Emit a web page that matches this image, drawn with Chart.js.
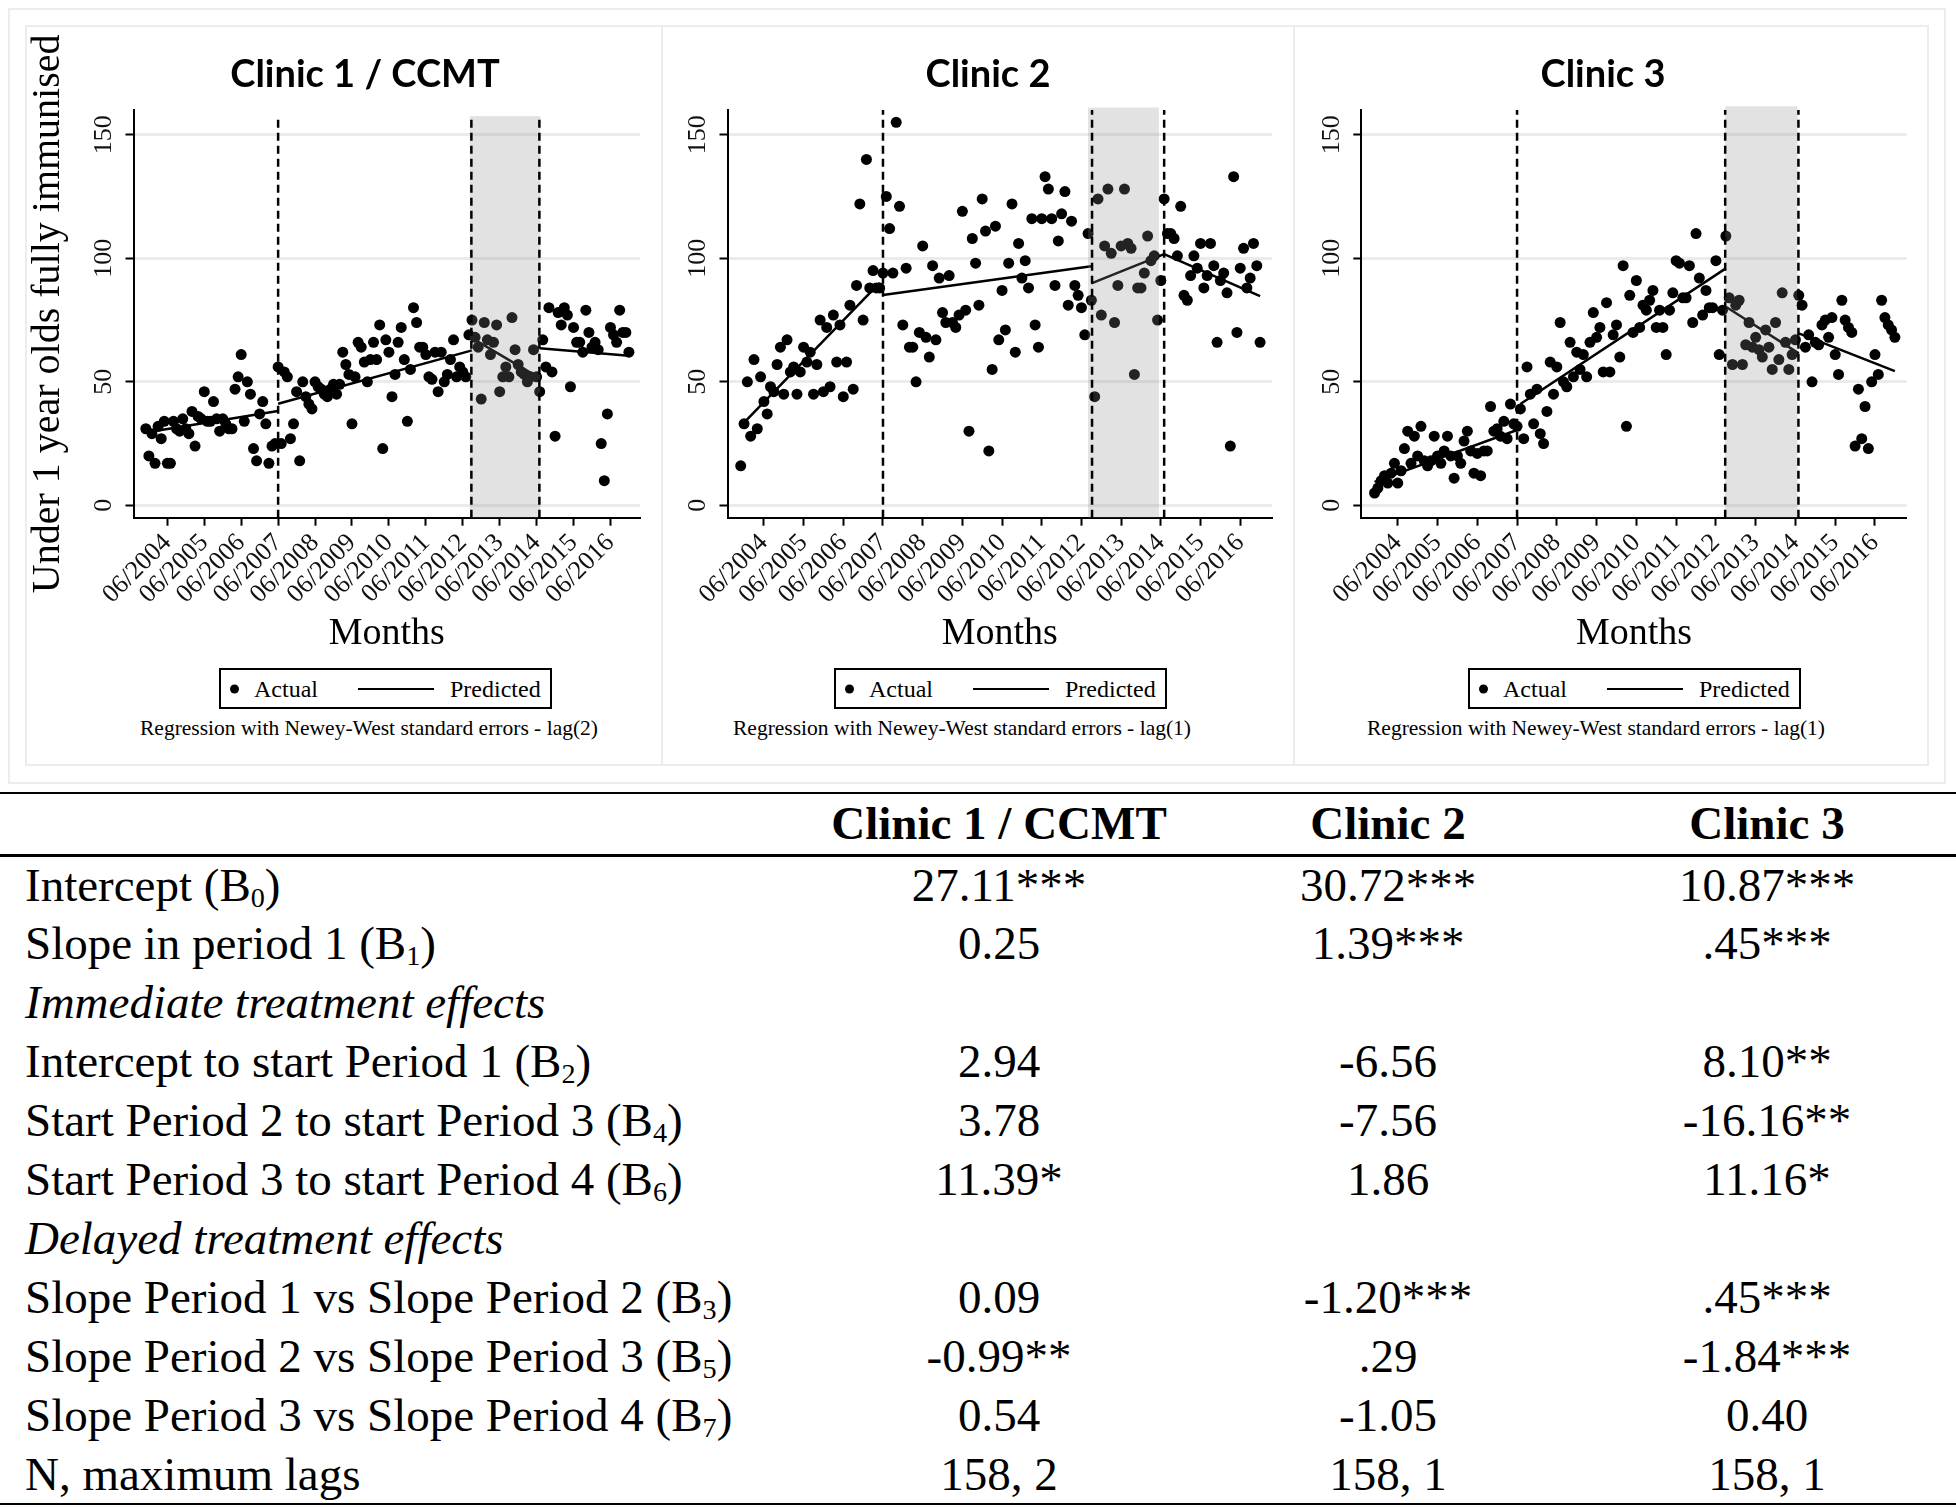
<!DOCTYPE html>
<html>
<head>
<meta charset="utf-8">
<script src="https://cdn.jsdelivr.net/npm/chart.js@4.4.1/dist/chart.umd.min.js"></script>
<style>
  html, body { margin: 0; padding: 0; background: #fff; }
  body { width: 1956px; height: 1507px; position: relative; overflow: hidden; font-family: 'Liberation Serif', serif; color: #000; }
  .frame { position: absolute; border: 2px solid #ececec; box-sizing: border-box; }
  .panel { position: absolute; top: 26px; }
  .ctitle { position: absolute; top: 53px; font-family: Lato, sans-serif; font-weight: bold; font-size: 38px; line-height: 38px; white-space: nowrap; transform: translateX(-50%); }
  .legend { position: absolute; top: 668px; width: 333px; height: 41px; border: 2px solid #000; box-sizing: border-box; font-size: 24px; }
  .legend span { position: absolute; top: 50%; transform: translateY(-50%); line-height: 1; white-space: nowrap; }
  .legend .dot { width: 9px; height: 9px; border-radius: 50%; background: #000; left: 9px; }
  .legend .ln { height: 0; border-top: 2px solid #000; width: 76px; left: 137px; }
  .note { position: absolute; top: 715px; font-size: 21.5px; line-height: 26px; white-space: nowrap; transform: translateX(-50%); }
  #tbl { position: absolute; left: 0; top: 792px; width: 1956px; border-collapse: collapse; table-layout: fixed; font-size: 47px; }
  #tbl th, #tbl td { padding: 0; white-space: nowrap; vertical-align: middle; line-height: 1; text-align: center; }
  #tbl th { font-weight: bold; }
  #tbl tr.head { height: 62px; border-top: 2px solid #000; border-bottom: 3px solid #000; }
  #tbl tr.row { height: 59px; }
  #tbl tr.last { border-bottom: 2px solid #000; }
  #tbl td.lab { text-align: left; padding-left: 25px; }
  #tbl td.sec { font-style: italic; }
  sub { font-size: 0.6em; vertical-align: -0.22em; line-height: 0; }
</style>
</head>
<body>
<div class="frame" style="left:8px;top:8px;width:1938px;height:776px;"></div>
<div class="frame" style="left:25px;top:25px;width:638px;height:741px;"></div>
<div class="frame" style="left:661px;top:25px;width:634px;height:741px;"></div>
<div class="frame" style="left:1293px;top:25px;width:636px;height:741px;"></div>

<div class="panel" style="left:26px"><canvas id="c1" width="635" height="634"></canvas></div>
<div class="panel" style="left:663px"><canvas id="c2" width="630" height="634"></canvas></div>
<div class="panel" style="left:1295px"><canvas id="c3" width="632" height="634"></canvas></div>

<div class="ctitle" style="left:365px">Clinic 1 / CCMT</div>
<div class="ctitle" style="left:988px">Clinic 2</div>
<div class="ctitle" style="left:1603px">Clinic 3</div>

<div class="legend" style="left:219px"><span class="dot"></span><span style="left:33px">Actual</span><span class="ln"></span><span style="left:229px">Predicted</span></div>
<div class="legend" style="left:834px"><span class="dot"></span><span style="left:33px">Actual</span><span class="ln"></span><span style="left:229px">Predicted</span></div>
<div class="legend" style="left:1468px"><span class="dot"></span><span style="left:33px">Actual</span><span class="ln"></span><span style="left:229px">Predicted</span></div>

<div class="note" style="left:369px">Regression with Newey-West standard errors - lag(2)</div>
<div class="note" style="left:962px">Regression with Newey-West standard errors - lag(1)</div>
<div class="note" style="left:1596px">Regression with Newey-West standard errors - lag(1)</div>

<table id="tbl">
  <colgroup><col style="width:800px"><col style="width:398px"><col style="width:380px"><col style="width:378px"></colgroup>
</table>

<script>
// months are counted from 06/2004; first observation is 11/2003
var firstMonth = -7;
var tickMonths = [0, 12, 24, 36, 48, 60, 72, 84, 96, 108, 120, 132, 144];
var tickLabels = ['06/2004', '06/2005', '06/2006', '06/2007', '06/2008', '06/2009', '06/2010',
                  '06/2011', '06/2012', '06/2013', '06/2014', '06/2015', '06/2016'];
var yTicks = [0, 50, 100, 150];

var clinic1Actual = [
  31, 20, 29, 17, 32, 27, 34, 17, 17, 34, 31, 30, 35, 31, 29, 38, 24, 36, 35, 46,
  34, 34, 42, 35, 30, 35, 33, 31, 31, 47, 52, 61, 34, 50, 45, 23, 18, 37, 42, 33,
  17, 24, 25, 56, 25, 54, 52, 27, 33, 46, 18, 50, 44, 41, 39, 50, 48, 47, 45, 44,
  47, 49, 45, 49, 62, 57, 53, 33, 52, 66, 64, 58, 50, 59, 66,
  59, 73, 23, 67, 62, 44, 53, 66, 72, 59, 34, 55, 80, 74, 64, 64, 61, 52, 51, 62,
  46, 62, 50, 53, 59, 67, 52, 56, 54, 52, 69, 75, 68, 64, 43, 74, 67, 61, 66, 73,
  46, 52, 56, 52, 76, 63, 57, 54, 53, 50, 52, 63, 52, 46, 67, 56, 80, 54, 28, 78,
  73, 80, 77, 48, 72, 66, 66, 62, 79, 70, 64, 66, 63, 25, 10, 37, 72, 69, 66, 79,
  70, 70, 62
];
var clinic2Actual = [
  16, 33, 50, 28, 59, 31, 52, 42, 37, 48, 46, 57, 64, 45, 67, 54, 56, 45, 54, 64,
  58, 62, 45, 57, 75, 46, 72, 48, 77, 58, 73, 44, 58, 81, 47, 89, 122, 75, 140, 88,
  95, 88, 88, 94, 125, 112, 94, 155, 121, 73, 96, 64, 64, 50, 70, 105, 68, 60, 97, 67,
  92, 78, 74, 93, 74, 72, 77, 119, 79, 30, 108, 98, 81, 124, 111, 22, 55, 113, 67, 87,
  71, 98, 122, 62, 106, 92, 99, 88, 116, 73, 64, 116, 133, 128, 116, 89, 107, 118, 127, 81,
  115, 89, 85, 80, 69, 110, 83, 44, 124, 77, 105, 128, 102, 74, 89, 105, 128,
  106, 104, 53, 88, 88, 94, 109, 99, 101, 75, 91, 124, 110, 110, 108, 101, 121, 85, 83, 93,
  101, 96, 106, 88, 93, 106, 97, 66, 91, 94, 86, 24, 133, 70, 96, 104, 88, 92, 106, 97, 66
];
var clinic3Actual = [
  5, 7, 10, 12, 9, 13, 17, 9, 14, 23, 30, 17, 28, 20, 32, 18, 16, 18, 28, 20,
  17, 22, 28, 20, 11, 20, 17, 26, 30, 22, 13, 21, 12, 22, 22, 40, 30, 31, 28, 34,
  27, 41, 33, 32, 39, 27, 56, 45, 33, 47, 29, 25, 38, 58, 45, 56, 74, 50, 48, 66,
  52, 62, 55, 61, 52, 66, 78, 68, 72, 54, 82, 54, 69, 73, 60, 97, 32, 85, 70, 91,
  72, 81, 79, 83, 87, 72, 79, 72, 61, 79, 86, 99, 98, 84, 84, 97, 74, 110, 92, 77,
  87, 80, 80, 99, 61, 79, 109, 84, 57, 81, 83, 57, 65, 74, 64, 68, 63, 60, 71, 64,
  55, 74, 59, 86, 66, 55, 61, 67, 85, 81, 64, 69, 50, 66, 65, 73, 75, 68, 76, 61,
  53, 83, 75, 72, 70, 24, 47, 27, 40, 23, 50, 61, 53, 83, 76, 73, 71, 68
];

// predicted segments: start/end month and value of each period
var clinic1PredMonths = [-7, 36, 36, 99, 99, 121, 121, 150];
var clinic1PredValues = [29.5, 38.2, 41.1, 62.7, 67.7, 51.5, 63.6, 60.5];
var clinic2PredMonths = [-6, 35, 36, 99, 99, 121, 121, 150];
var clinic2PredValues = [33.5, 90, 85.1, 96.8, 89.8, 101.7, 101.7, 84.7];
var clinic3PredMonths = [-7, 36, 37, 99, 99, 121, 121, 150];
var clinic3PredValues = [9.5, 30.5, 41, 95.9, 80.4, 61.5, 69.6, 54.3];

// interruption months (dashed lines) and the shaded period
var clinic1Breaks = [36, 98.8, 120.9];
var clinic1Shade = [98.3, 121.2];
var clinic2Breaks = [36, 99.2, 121];
var clinic2Shade = [98, 119.4];
var clinic3Breaks = [36, 98.8, 120.9];
var clinic3Shade = [98.8, 120.6];

// table
var rowLabels = ['Intercept (B<sub>0</sub>)', 'Slope in period 1 (B<sub>1</sub>)', 'Immediate treatment effects',
  'Intercept to start Period 1 (B<sub>2</sub>)', 'Start Period 2 to start Period 3 (B<sub>4</sub>)',
  'Start Period 3 to start Period 4 (B<sub>6</sub>)', 'Delayed treatment effects',
  'Slope Period 1 vs Slope Period 2 (B<sub>3</sub>)', 'Slope Period 2 vs Slope Period 3 (B<sub>5</sub>)',
  'Slope Period 3 vs Slope Period 4 (B<sub>7</sub>)', 'N, maximum lags'];
var clinicNames = ['Clinic 1 / CCMT', 'Clinic 2', 'Clinic 3'];
var clinic1Coef = ['27.11***', '0.25', '', '2.94', '3.78', '11.39*', '', '0.09', '-0.99**', '0.54', '158, 2'];
var clinic2Coef = ['30.72***', '1.39***', '', '-6.56', '-7.56', '1.86', '', '-1.20***', '.29', '-1.05', '158, 1'];
var clinic3Coef = ['10.87***', '.45***', '', '8.10**', '-16.16**', '11.16*', '', '.45***', '-1.84***', '0.40', '158, 1'];

Chart.defaults.font.family = "'Liberation Serif', serif";
Chart.defaults.color = '#111';

var periodMarks = {
  id: 'periodMarks',
  afterDatasetsDraw: function (chart, args, opts) {
    var ctx = chart.ctx, x = chart.scales.x, y = chart.scales.y;
    var x0 = x.getPixelForValue(opts.shade[0]);
    var x1 = x.getPixelForValue(opts.shade[1]);
    var top = y.getPixelForValue(opts.shadeTop);
    ctx.save();
    ctx.fillStyle = 'rgba(140,140,140,0.25)';
    ctx.fillRect(x0, top, x1 - x0, y.bottom - top);
    ctx.strokeStyle = '#000';
    ctx.lineWidth = 2.5;
    ctx.setLineDash([8, 5]);
    opts.breaks.forEach(function (b) {
      var px = x.getPixelForValue(b);
      ctx.beginPath();
      ctx.moveTo(px, y.bottom);
      ctx.lineTo(px, y.getPixelForValue(opts.lineTop));
      ctx.stroke();
    });
    ctx.restore();
  }
};

function drawClinic(id, actual, predMonths, predValues, breaks, shade, p) {
  var points = actual.map(function (v, i) { return {x: firstMonth + i, y: v}; });
  var pred = [];
  for (var i = 0; i < predMonths.length; i += 2) {
    if (i > 0) pred.push({x: predMonths[i], y: null});
    pred.push({x: predMonths[i], y: predValues[i]});
    pred.push({x: predMonths[i + 1], y: predValues[i + 1]});
  }

  new Chart(document.getElementById(id), {
    type: 'scatter',
    data: {
      datasets: [
        {label: 'Predicted', data: pred, showLine: true, spanGaps: false, borderColor: '#000',
         borderWidth: 2.5, pointRadius: 0, order: 1},
        {label: 'Actual', data: points, pointRadius: 5.5, pointBackgroundColor: '#000',
         pointBorderWidth: 0, order: 2}
      ]
    },
    options: {
      responsive: false,
      animation: false,
      layout: {padding: {top: 84, right: p.padRight, bottom: 0, left: 0}},
      plugins: {
        legend: {display: false},
        tooltip: {enabled: false},
        periodMarks: {breaks: breaks, shade: shade, shadeTop: p.shadeTop, lineTop: p.lineTop}
      },
      scales: {
        x: {
          type: 'linear', min: -11, max: 153.6,
          afterBuildTicks: function (s) { s.ticks = tickMonths.map(function (v) { return {value: v}; }); },
          afterFit: function (s) { s.height = 142.3; },
          ticks: {
            autoSkip: false, minRotation: 45, maxRotation: 45, padding: 2,
            font: {size: 26},
            callback: function (v) { return tickLabels[tickMonths.indexOf(v)]; }
          },
          grid: {drawOnChartArea: false, tickColor: '#000', tickWidth: 2, tickLength: 8},
          border: {color: '#000', width: 2},
          title: {display: true, text: 'Months', color: '#000', font: {size: 38}, padding: {top: 0, bottom: 3}}
        },
        y: {
          min: -5, max: 160,
          afterBuildTicks: function (s) { s.ticks = yTicks.map(function (v) { return {value: v}; }); },
          afterFit: function (s) { s.width = p.yWidth; },
          ticks: {minRotation: 90, maxRotation: 90, crossAlign: 'center', padding: 2, font: {size: 26}},
          grid: {color: '#ebebeb', lineWidth: 3, tickColor: '#000', tickWidth: 2, tickLength: 8},
          border: {color: '#000', width: 2},
          title: {display: p.yTitle, text: 'Under 1 year olds fully immunised', color: '#000',
                  font: {size: 40, lineHeight: 1}, padding: {top: 2}}
        }
      }
    },
    plugins: [periodMarks]
  });
}

drawClinic('c1', clinic1Actual, clinic1PredMonths, clinic1PredValues, clinic1Breaks, clinic1Shade,
  {yWidth: 107.5, padRight: 21, yTitle: true, shadeTop: 157.5, lineTop: 157.5});
drawClinic('c2', clinic2Actual, clinic2PredMonths, clinic2PredValues, clinic2Breaks, clinic2Shade,
  {yWidth: 64.5, padRight: 21, yTitle: false, shadeTop: 161, lineTop: 160});
drawClinic('c3', clinic3Actual, clinic3PredMonths, clinic3PredValues, clinic3Breaks, clinic3Shade,
  {yWidth: 66.3, padRight: 20.2, yTitle: false, shadeTop: 161.5, lineTop: 160});

// results table
var tbl = document.getElementById('tbl');
var html = '<tr class="head"><th></th>';
clinicNames.forEach(function (n) { html += '<th>' + n + '</th>'; });
html += '</tr>';
rowLabels.forEach(function (lab, i) {
  var sec = clinic1Coef[i] === '' && clinic2Coef[i] === '';
  html += '<tr class="row' + (i === rowLabels.length - 1 ? ' last' : '') + '">' +
    '<td class="lab' + (sec ? ' sec' : '') + '">' + lab + '</td>' +
    '<td>' + clinic1Coef[i] + '</td><td>' + clinic2Coef[i] + '</td><td>' + clinic3Coef[i] + '</td></tr>';
});
tbl.insertAdjacentHTML('beforeend', html);
</script>
</body>
</html>
